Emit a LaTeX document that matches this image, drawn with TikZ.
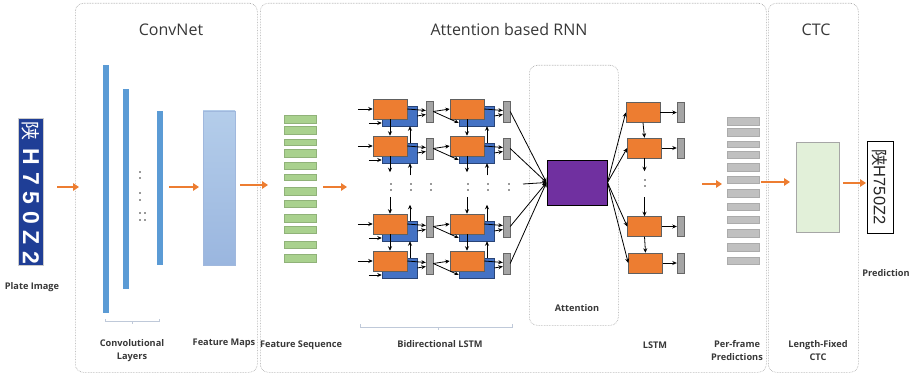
\documentclass[tikz,border=0pt]{standalone}
\usepackage{fontspec}
\setmainfont{Open Sans}
\newfontfamily\cjk{Noto Sans CJK SC}
\newfontfamily\platefont{Liberation Sans}
\usetikzlibrary{arrows.meta}
\definecolor{orng}{HTML}{ED7D31}
\definecolor{lblue}{HTML}{4472C4}
\definecolor{barblue}{HTML}{5B9BD5}
\definecolor{gry}{HTML}{A5A5A5}
\definecolor{purp}{HTML}{7030A0}
\definecolor{fgreen}{HTML}{A9D18E}
\definecolor{ctcgreen}{HTML}{E2F0D9}
\definecolor{plateblue}{HTML}{1F3E96}
\definecolor{panelline}{HTML}{A0A0A0}
\definecolor{txt}{HTML}{383838}
\definecolor{brk}{HTML}{BFC9D9}
\definecolor{fmtop}{HTML}{B4CDEA}
\definecolor{fmbot}{HTML}{9AB6DF}
\definecolor{fmdraw}{HTML}{A0B8DD}
\definecolor{pffill}{HTML}{C0C0C0}
\definecolor{pfdraw}{HTML}{ABABAB}
\tikzset{
  panel/.style={draw=panelline, densely dotted, rounded corners=8pt, line width=0.6pt, anchor=north west, inner sep=0},
  bigarrow/.style={draw=orng, line width=2.2pt, -{Triangle[length=6pt,width=7.5pt]}},
  arr/.style={-{Stealth[length=4.5pt,width=4pt]}, line width=0.8pt, black},
  box/.style={rectangle, anchor=north west, inner sep=0, outer sep=0},
  cellO/.style={rectangle, draw=gray!75!black, fill=orng, minimum width=34pt, minimum height=20pt, inner sep=0, line width=0.5pt},
  cellB/.style={rectangle, draw=lblue!60!black, fill=lblue, minimum width=35pt, minimum height=20pt, inner sep=0, line width=0.5pt},
  cellG/.style={rectangle, draw=gray!80!black, fill=gry, minimum width=7pt, minimum height=21pt, inner sep=0, line width=0.4pt},
  lbl/.style={font=\fontsize{9.2}{13}\selectfont\bfseries, text=txt, align=center},
  ttl/.style={font=\fontsize{16}{18}\selectfont, text=txt},
  dotm/.style={circle, fill=black!80, inner sep=0, minimum size=1.8pt},
  brkline/.style={draw=brk, line width=0.7pt}
}
\begin{document}
\begin{tikzpicture}[x=1pt,y=-1pt]
\fill[white] (0,0) rectangle (917,377);
\useasboundingbox (0,0) rectangle (917,377);

% panels
\node[panel, minimum width=182pt, minimum height=369pt] (convpanel) at (75,3) {};
\node[panel, minimum width=506pt, minimum height=369pt] (rnnpanel) at (260,3) {};
\node[panel, minimum width=90pt, minimum height=369pt] (ctcpanel) at (768,3) {};
\node[panel, minimum width=89pt, minimum height=260pt] (attpanel) at (529,65) {};

\node[ttl] (t1) at (171,30) {ConvNet};
\node[ttl] (t2) at (509,30) {Attention based RNN};
\node[ttl] (t3) at (816,30) {CTC};

% plate
\node[box, fill=plateblue, draw=gray!40, minimum width=25pt, minimum height=147pt] (plate) at (18,118) {};
\node[rotate=-90, text=white, font=\cjk\fontsize{19}{19}\selectfont] (pc0) at (31,131) {陕};
\foreach \c/\y in {H/157,7/179,5/198,0/218,Z/238,2/258}
  \node[rotate=-90, text=white, font=\platefont\bfseries\fontsize{23}{23}\selectfont] (pc\y) at (31,\y) {\c};
\node[lbl] (plateL) at (32,287) {Plate Image};

% conv layers
\node[box, fill=barblue, minimum width=6pt, minimum height=248pt] (bar1) at (103,65) {};
\node[box, fill=barblue, minimum width=6pt, minimum height=200pt] (bar2) at (123,89) {};
\node[box, fill=barblue, minimum width=6pt, minimum height=154pt] (bar3) at (157,111) {};
\foreach \x/\y [count=\i] in {140/172,140/178,140/193,140/200,140/213,145/213,140/220,145/220}
  \node[dotm] (cd\i) at (\x,\y) {};
\draw[brkline] (105,319) -- (105,321) -- (159,321) -- (159,319);
\draw[brkline] (132,321) -- (132,324);
\node[lbl] (convL) at (132,351) {Convolutional\\Layers};

% feature maps
\node[box, top color=fmtop, bottom color=fmbot, draw=fmdraw, minimum width=32pt, minimum height=154pt] (fmap) at (203,111) {};
\node[lbl] (fmapL) at (224,343) {Feature Maps};

% feature sequence
\foreach \t/\h [count=\i] in {115/8,126/8,139/6,149/8,162/7,174/6,187/8,200/7,214/8,226/7,241/7,254/8}
  \node[box, fill=fgreen, draw=fgreen!85!black, line width=0.3pt, minimum width=32pt, minimum height=\h pt] (fs\i) at (284,\t) {};
\node[lbl] (fsL) at (301,345) {Feature Sequence};

% big arrows
\coordinate (a1s) at (57,187); \coordinate (a1e) at (79,187);
\coordinate (a2s) at (169,187); \coordinate (a2e) at (199,187);
\coordinate (a3s) at (240,185); \coordinate (a3e) at (268,185);
\coordinate (a4s) at (323,187); \coordinate (a4e) at (347,187);
\coordinate (a5s) at (702,184); \coordinate (a5e) at (722,184);
\coordinate (a6s) at (761,182); \coordinate (a6e) at (790,182);
\coordinate (a7s) at (843,183); \coordinate (a7e) at (866,183);
\foreach \i in {1,...,7} \draw[bigarrow] (a\i s) -- (a\i e);

% BiLSTM grid
\foreach \c in {0,1} {
  \foreach \r/\t in {1/99,2/136,3/214,4/251} {
    \pgfmathsetmacro\xo{390+77*\c}
    \pgfmathsetmacro\xb{399.5+77*\c}
    \pgfmathsetmacro\xg{429.5+77*\c}
    \node[cellB] (b\c\r) at (\xb,\t+17) {};
    \node[cellO] (o\c\r) at (\xo,\t+10) {};
    \node[cellG] (g\c\r) at (\xg,\t+12.5) {};
    \draw[arr] (o\c\r.east) -- ([yshift=1pt]g\c\r.west);
    \draw[arr] (b\c\r.east) -- ([yshift=-3pt]g\c\r.west);
  }
}
\foreach \r in {1,2,3,4} {
  \draw[arr] ([xshift=-15pt]o0\r.west) -- (o0\r.west);
  \draw[arr] ([xshift=-13pt,yshift=-7pt]b0\r.west) -- ([yshift=-7pt]b0\r.west);
  \draw[arr] (g0\r.east) -- (o1\r.west);
  \draw[arr] (g0\r.east) -- ([yshift=-7pt]b1\r.west);
}
\foreach \c in {0,1} {
  \draw[arr] (o\c1.south) -- (o\c2.north);
  \draw[arr] (o\c3.south) -- (o\c4.north);
  \draw[arr] ([xshift=10.5pt]b\c2.north) -- ([xshift=10.5pt]b\c1.south);
  \draw[arr] ([xshift=10.5pt]b\c4.north) -- ([xshift=10.5pt]b\c3.south);
  \draw[arr] (o\c2.south) -- ([yshift=-16pt]o\c2.south);
  \draw[arr] ([xshift=10.5pt,yshift=-12pt]b\c2.south) -- ([xshift=10.5pt]b\c2.south);
  \draw[arr] ([yshift=17pt]o\c3.north) -- (o\c3.north);
  \draw[arr] ([xshift=10.5pt]b\c3.north) -- ([xshift=10.5pt,yshift=16pt]b\c3.north);
}
\foreach \x [count=\i] in {391,411,431,468,488,509} {
  \node[dotm] (bd\i a) at (\x,184) {};
  \node[dotm] (bd\i b) at (\x,190) {};
}
\draw[brkline] (360,324) -- (360,327) -- (512,327) -- (512,324);
\draw[brkline] (438,327) -- (438,330);
\node[lbl] (bilL) at (440,344) {Bidirectional LSTM};

% attention
\node[rectangle, draw=black, line width=1pt, fill=purp, minimum width=60pt, minimum height=45pt] (att) at (577,182.5) {};
\foreach \r in {1,2,3,4} \draw[arr] (g1\r.east) -- (att.west);
\coordinate (attin) at (523,184);
\draw[arr] (attin) -- (att.west);
\node[lbl] (attL) at (577,308) {Attention};

% LSTM decoder
\foreach \i/\x/\y in {1/643/112.5,2/644.5/148,3/644.5/226.5,4/645.5/263} {
  \node[cellO] (L\i) at (\x,\y) {};
  \node[cellG, minimum height=20pt] (LG\i) at (680.5,\y) {};
  \draw[arr] (att.east) -- (L\i.west);
  \draw[arr] (L\i.east) -- (LG\i.west);
}
\draw[arr] (L1.south) -- (L2.north);
\draw[arr] (L3.south) -- (L4.north);
\draw[arr] (L2.south) -- ([yshift=-13pt]L2.south);
\draw[arr] ([yshift=19pt]L3.north) -- (L3.north);
\node[dotm] (ld1) at (645,180) {};
\node[dotm] (ld2) at (645,186) {};
\node[lbl] (lstmL) at (655,345) {LSTM};

% per-frame predictions
\foreach \t/\h [count=\i] in {117/8,128/8,141/6,151/7,163/8,176/7,189/8,203/7,216/7,229/8,243/8,257/7}
  \node[box, fill=pffill, draw=pfdraw, line width=0.3pt, minimum width=32pt, minimum height=\h pt] (pf\i) at (727,\t) {};
\node[lbl] (pfL) at (737,351) {Per-frame\\Predictions};

% CTC
\node[box, fill=ctcgreen, draw=gray!70, line width=0.5pt, minimum width=43pt, minimum height=90pt] (ctc) at (796,142) {};
\node[lbl] (ctcL) at (818,351) {Length-Fixed\\CTC};

% prediction
\node[box, fill=white, draw=black, line width=0.8pt, minimum width=26pt, minimum height=92pt] (pred) at (867,141) {};
\node[rotate=-90, font=\platefont\fontsize{16.5}{16.5}\selectfont, text=black!85] (predtxt) at (pred.center) {{\cjk 陕}H750Z2};
\node[lbl] (predL) at (886,273) {Prediction};
\end{tikzpicture}
\end{document}
